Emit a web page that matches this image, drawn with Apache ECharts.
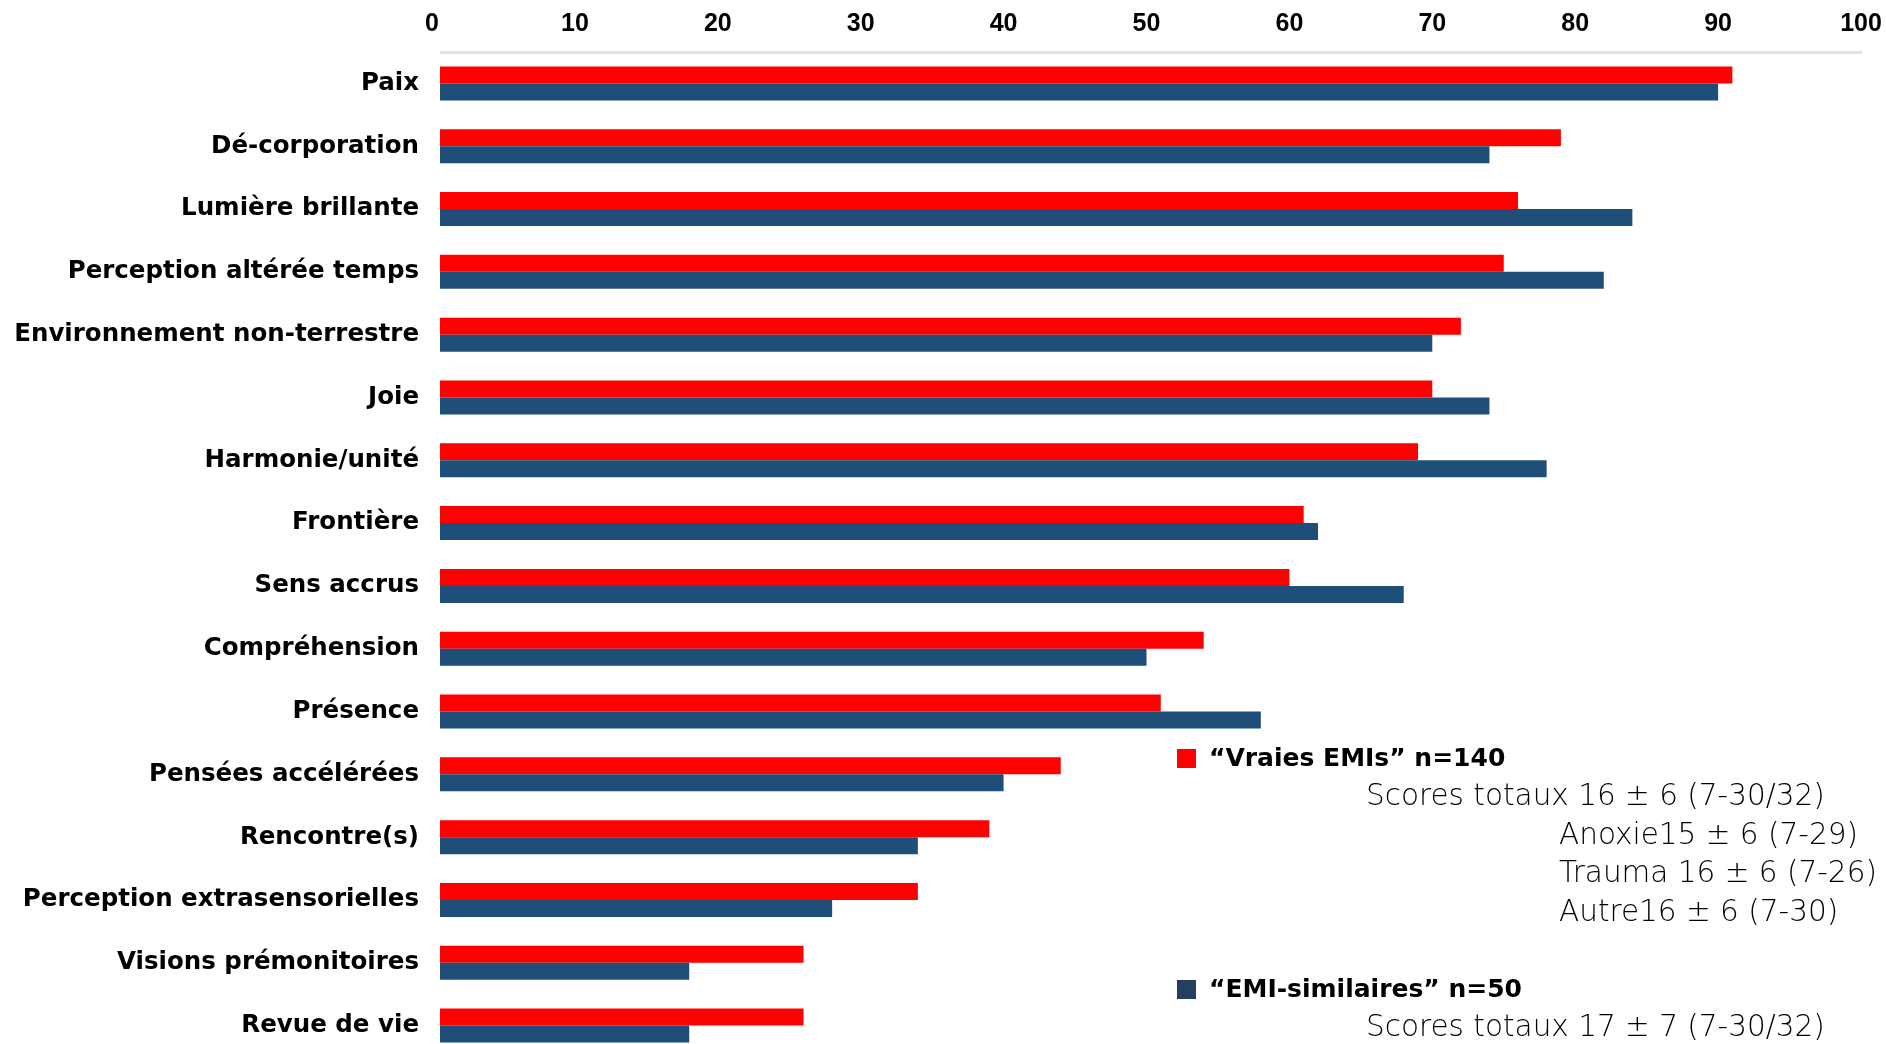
<!DOCTYPE html>
<html>
<head>
<meta charset="utf-8">
<script src="https://cdn.jsdelivr.net/npm/echarts@6/dist/echarts.min.js"></script>
<style>
html,body{margin:0;padding:0;background:#fff;}
#chart{width:1886px;height:1044px;}
</style>
</head>
<body>
<div id="chart"></div>
<script>
const categories = ["Paix","Dé-corporation","Lumière brillante","Perception altérée temps","Environnement non-terrestre","Joie","Harmonie/unité","Frontière","Sens accrus","Compréhension","Présence","Pensées accélérées","Rencontre(s)","Perception extrasensorielles","Visions prémonitoires","Revue de vie"];
const vraiesEMIs = [91,79,76,75,72,70,69,61,60,54,51,44,39,34,26,26];
const emiSimilaires = [90,74,84,82,70,74,78,62,68,50,58,40,34,28,18,18];
const seriesNames = ["“Vraies EMIs” n=140","“EMI-similaires” n=50"];
const legendLines1 = ["Scores totaux 16 ± 6 (7-30/32)","Anoxie15 ± 6 (7-29)","Trauma 16 ± 6 (7-26)","Autre16 ± 6 (7-30)"];
const legendLines2 = ["Scores totaux 17 ± 7 (7-30/32)"];
const axisMin = 0, axisMax = 100, axisStep = 10;

const chart = echarts.init(document.getElementById('chart'), null, {renderer:'canvas'});
function sub(text, x, y){
  return {type:'text', x:x, y:y, style:{text:text, fill:'#000', fontFamily:'DejaVu Sans', fontWeight:200, fontSize:29.5, verticalAlign:'middle', textVerticalAlign:'middle'}};
}
function head(text, x, y){
  return {type:'text', x:x, y:y, style:{text:text, fill:'#000', fontFamily:'DejaVu Sans', fontWeight:'bold', fontSize:25, verticalAlign:'middle', textVerticalAlign:'middle'}};
}
const graphics = [
  {type:'rect', left:1177, top:749, shape:{width:19,height:19}, style:{fill:'#ff0000'}},
  head(seriesNames[0], 1209, 759),
  sub(legendLines1[0], 1366, 797),
  sub(legendLines1[1], 1559, 836),
  sub(legendLines1[2], 1559, 874),
  sub(legendLines1[3], 1559, 913),
  {type:'rect', left:1177, top:980, shape:{width:19,height:19}, style:{fill:'#243f60'}},
  head(seriesNames[1], 1209, 990),
  sub(legendLines2[0], 1366, 1028)
];
chart.setOption({
  animation:false,
  backgroundColor:'#fff',
  grid:{left:432, top:52, width:1429, height:1005, containLabel:false, outerBoundsMode:'none'},
  xAxis:{
    type:'value', position:'top', min:axisMin, max:axisMax, interval:axisStep,
    axisLine:{show:true, lineStyle:{color:'#e3e3e3', width:3}},
    axisTick:{show:false},
    splitLine:{show:false},
    axisLabel:{color:'#000', fontFamily:'Liberation Sans', fontWeight:'bold', fontSize:25, margin:15}
  },
  yAxis:{
    type:'category', inverse:true, data:categories, z:5,
    axisLine:{show:true, lineStyle:{color:'#fff', width:16}},
    axisTick:{show:false},
    axisLabel:{color:'#000', fontFamily:'DejaVu Sans', fontWeight:'bold', fontSize:24.5, margin:13, padding:[6,0,0,0]}
  },
  series:[
    {name:seriesNames[0], type:'bar', data:vraiesEMIs, barWidth:17, barGap:'0%', itemStyle:{color:'#ff0000'}},
    {name:seriesNames[1], type:'bar', data:emiSimilaires, barWidth:17, barGap:'0%', itemStyle:{color:'#1f4e79'}}
  ],
  graphic:graphics
});
</script>
</body>
</html>
